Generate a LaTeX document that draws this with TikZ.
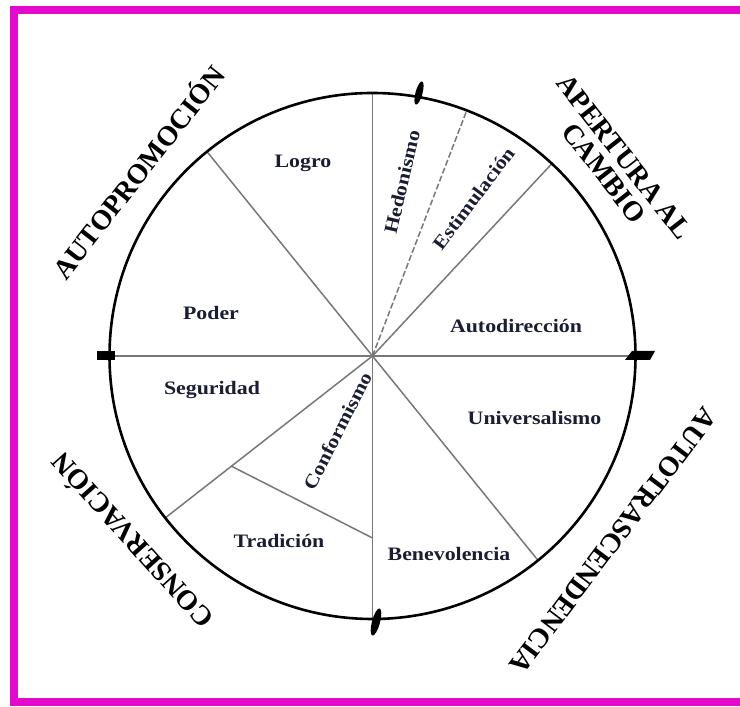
\documentclass[tikz,border=0pt]{standalone}
\usepackage{fontspec}
\setmainfont{Liberation Serif}
\newfontfamily\innerfont{Liberation Serif}[FakeStretch=1.15]
\definecolor{frame}{RGB}{228,10,205}
\definecolor{spokegray}{RGB}{120,120,120}
\definecolor{lblcol}{RGB}{25,30,50}
\begin{document}
\begin{tikzpicture}[x=1pt,y=1pt,
  ring/.style={line width=2.6pt, draw=black},
  spoke/.style={line width=1.5pt, draw=spokegray},
  dspoke/.style={spoke, dash pattern=on 6pt off 2.5pt},
  lbl/.style={font=\innerfont\bfseries\fontsize{19}{22}\selectfont, text=lblcol, inner sep=0pt},
  outer/.style={font=\bfseries\fontsize{28}{26}\selectfont, text=black, inner sep=0pt, align=center},
  tickmark/.style={fill=black, draw=none}]
\useasboundingbox (0,0) rectangle (740,707);
\clip (0,0) rectangle (740,707);
\fill[white] (0,0) rectangle (740,707);
\draw[line width=8pt, draw=frame] (13.5,5) rectangle (760,696.5);
% geometry
\coordinate (c) at (372.5,351);
\foreach \a/\n in {0/e,180/w,90/n,270/s,129/nw,69/h,47/ne,-51/se,218/sw}
  \coordinate (p\n) at ([shift={(\a:263)}]c);
\coordinate (j1) at ([shift={(218:179)}]c);
\coordinate (j2) at ([shift={(270:182)}]c);
% spokes
\draw[spoke] (pw) -- (pe);
\draw[spoke] (pn) -- (ps);
\draw[spoke] (c) -- (pnw);
\draw[spoke] (c) -- (pne);
\draw[spoke] (c) -- (pse);
\draw[spoke] (c) -- (psw);
\draw[spoke] (j1) -- (j2);
\draw[dspoke] (c) -- (ph);
% circle
\draw[ring] (c) circle (263);
% tick marks
\fill[tickmark, rotate around={-15:(419,614)}] (419,614) ellipse (3.5 and 12);
\fill[tickmark, rotate around={-15:(376,85)}] (376,85) ellipse (4 and 14);
\fill[tickmark] (625,347) -- (632,356) -- (655,356) -- (650,347) -- cycle;
\fill[tickmark] (97,347) rectangle (115,356);
% inner labels
\node[lbl] (logro) at (303,544) {Logro};
\node[lbl] (poder) at (211,394) {Poder};
\node[lbl, rotate=77] (hedon) at (402,525) {Hedonismo};
\node[lbl, rotate=53] (estim) at (473.5,508.5) {Estimulación};
\node[lbl] (autod) at (516,381) {Autodirección};
\node[lbl] (segur) at (212,317) {Seguridad};
\node[lbl, rotate=63] (confo) at (337.5,276) {Conformismo};
\node[lbl] (tradi) at (279,166) {Tradición};
\node[lbl] (benev) at (449,153) {Benevolencia};
\node[lbl] (unive) at (534.5,288.5) {Universalismo};
% outer labels
\node[outer, rotate=52] (autop) at (137,536) {AUTOPROMOCIÓN};
\node[outer, rotate=-52] (apert) at (614,542) {APERTURA AL\\CAMBIO};
\node[outer, rotate=233] (autot) at (613,166) {AUTOTRASCENDENCIA};
\node[outer, rotate=132] (conse) at (131,165) {CONSERVACIÓN};
\end{tikzpicture}
\end{document}
